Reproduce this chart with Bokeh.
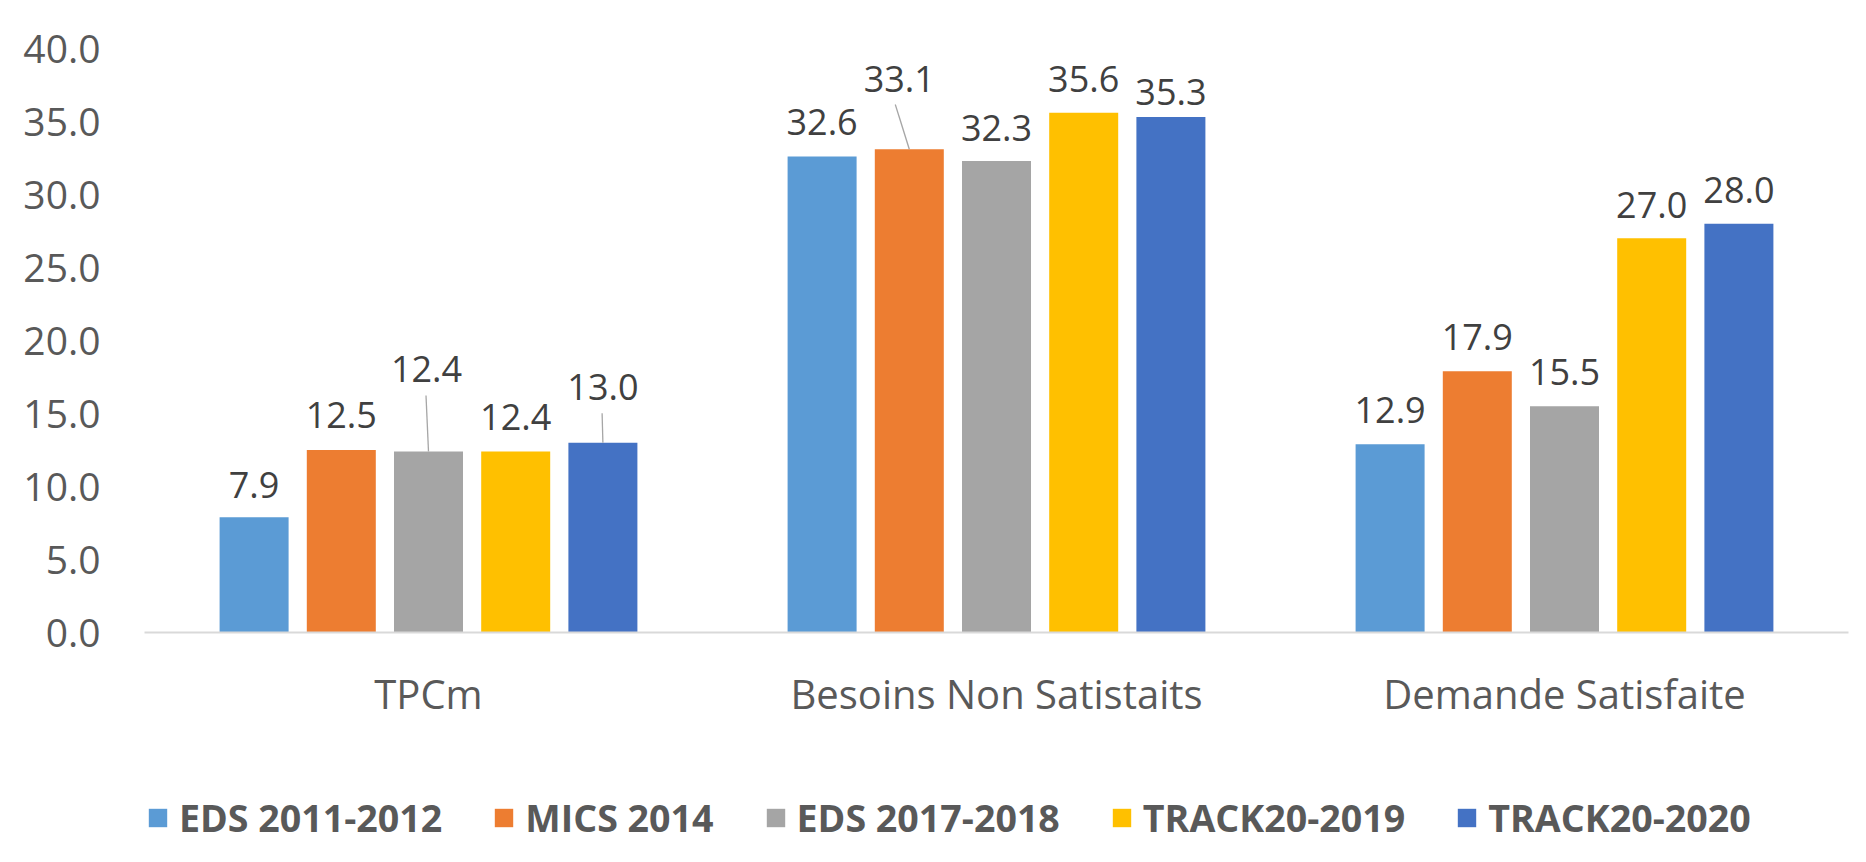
from bokeh.plotting import figure
from bokeh.layouts import column
from bokeh.models import (ColumnDataSource, FactorRange, Range1d, FixedTicker, Legend,
                          LegendItem, BoxAnnotation, CustomJSTickFormatter)
from bokeh.transform import dodge
from bokeh.core.properties import value
from bokeh.embed import file_html
from bokeh.resources import INLINE

# ---------------- data ----------------
categories = ["TPCm", "Besoins Non Satistaits", "Demande Satisfaite"]
series_names = ["EDS 2011-2012", "MICS 2014", "EDS 2017-2018", "TRACK20-2019", "TRACK20-2020"]
eds_2011_2012 = [7.9, 32.6, 12.9]
mics_2014 = [12.5, 33.1, 17.9]
eds_2017_2018 = [12.4, 32.3, 15.5]
track20_2019 = [12.4, 35.6, 27.0]
track20_2020 = [13.0, 35.3, 28.0]
y_ticks = [0, 5, 10, 15, 20, 25, 30, 35, 40]

series_values = [eds_2011_2012, mics_2014, eds_2017_2018, track20_2019, track20_2020]

# ---------------- style ----------------
colors = ["#5B9BD5", "#ED7D31", "#A5A5A5", "#FFC000", "#4472C4"]
FONT = "Open Sans"
W = 1866
H1, H2 = 740, 122          # chart part, legend part
LEFT, RIGHT, TOP, BOTTOM = 144, 18, 48, 108
FRAME_W = W - LEFT - RIGHT
FRAME_H = H1 - TOP - BOTTOM
Y_MAX = 40
PX_Y = FRAME_H / Y_MAX
PX_X = FRAME_W / len(categories)
STEP = 87.2 / PX_X
BAR_W = 69 / PX_X

# label lift (px from bar top to label centre) per series / category
label_lift = [
    [32, 35, 34],
    [35.5, 70.7, 34],
    [82, 33, 34],
    [34, 34, 33],
    [55.5, 25, 33.5],
]
label_dx = [
    [0, 0, 0],
    [0, -10, 0],
    [-2, 0, 0],
    [0, 0, 0],
    [0, 0, 0],
]
# leader lines: (series index, category index, top dx px)
leaders = [(2, 0, -2.5), (1, 1, -14), (4, 0, -0.8)]

border_col = "#A6948F"


def edge(left, right, top, bottom):
    return BoxAnnotation(left=left, right=right, top=top, bottom=bottom,
                         left_units="canvas", right_units="canvas",
                         top_units="canvas", bottom_units="canvas",
                         fill_color=border_col, fill_alpha=1, line_color=None)


p = figure(width=W, height=H1, output_backend="svg", toolbar_location=None,
           x_range=FactorRange(factors=categories), y_range=Range1d(0, Y_MAX),
           min_border_left=LEFT, min_border_right=RIGHT, min_border_top=TOP,
           min_border_bottom=BOTTOM, outline_line_color=None,
           background_fill_color="white", border_fill_color="white")
p.xgrid.visible = False
p.ygrid.visible = False

data = {"cat": categories}
for j, vals in enumerate(series_values):
    data[f"v{j}"] = vals
    data[f"t{j}"] = [f"{v:.1f}" for v in vals]
    data[f"o{j}"] = [-l for l in label_lift[j]]
    data[f"dx{j}"] = label_dx[j]
src = ColumnDataSource(data)

for j, name in enumerate(series_names):
    off = (j - 2) * STEP
    p.vbar(x=dodge("cat", off, range=p.x_range), top=f"v{j}", width=BAR_W,
           source=src, fill_color=colors[j], line_color=None)
    p.text(x=dodge("cat", off, range=p.x_range), y=f"v{j}", text=f"t{j}",
           y_offset=f"o{j}", x_offset=f"dx{j}", source=src,
           text_align="center", text_baseline="middle",
           text_font=value(FONT), text_font_size="36px", text_color="#404040")

x0, y0, x1, y1 = [], [], [], []
for j, i, tdx in leaders:
    v = series_values[j][i]
    xc = i + 0.5 + (j - 2) * STEP
    x0.append(xc)
    y0.append(v)
    x1.append(xc + tdx / PX_X)
    y1.append(v + (label_lift[j][i] - 26) / PX_Y)
p.segment(x0=x0, y0=y0, x1=x1, y1=y1, line_color="#A6A6A6", line_width=1.3)

# axes
p.yaxis.ticker = FixedTicker(ticks=y_ticks)
p.yaxis.formatter = CustomJSTickFormatter(code="return tick.toFixed(1);")
p.yaxis.axis_line_color = None
p.yaxis.major_tick_line_color = None
p.yaxis.minor_tick_line_color = None
p.yaxis.major_tick_out = 0
p.yaxis.major_label_standoff = 44
p.yaxis.major_label_text_font = FONT
p.yaxis.major_label_text_font_size = "39px"
p.yaxis.major_label_text_color = "#595959"

p.xaxis.axis_line_color = "#D9D9D9"
p.xaxis.axis_line_width = 2
p.xaxis.major_tick_line_color = None
p.xaxis.minor_tick_line_color = None
p.xaxis.major_tick_out = 0
p.xaxis.major_label_standoff = 33
p.xaxis.major_label_text_font = FONT
p.xaxis.major_label_text_font_size = "40px"
p.xaxis.major_label_text_color = "#595959"

p.add_layout(edge(3, 5, 5, H1))
p.add_layout(edge(3, W, 5, 7))

# ---------------- legend strip (same series, renderers hidden, swatches only) ----------------
q = figure(width=W, height=H2, output_backend="svg", toolbar_location=None,
           x_range=FactorRange(factors=categories), y_range=Range1d(0, Y_MAX),
           x_axis_location=None, y_axis_location=None,
           min_border=0, outline_line_color=None,
           background_fill_color="white", border_fill_color="white")
q.grid.visible = False
items = []
for j, name in enumerate(series_names):
    off = (j - 2) * STEP
    r = q.vbar(x=dodge("cat", off, range=q.x_range), top=f"v{j}", width=BAR_W,
               source=src, fill_color=colors[j], line_color=None, visible=False)
    items.append(LegendItem(label=name, renderers=[r]))
legend = Legend(items=items, orientation="horizontal", location=(2, 19),
                glyph_width=23, glyph_height=23, label_standoff=10, spacing=50,
                padding=0, margin=0, border_line_color=None, background_fill_alpha=0,
                label_text_font=FONT, label_text_font_style="bold",
                label_text_font_size="37.6px", label_text_color="#595959",
                label_height=23, inactive_fill_alpha=0)
q.add_layout(legend, "center")
q.add_layout(edge(3, 5, 0, H2))

layout = column(p, q, spacing=0)
open("out.html", "w").write(file_html(layout, INLINE))
